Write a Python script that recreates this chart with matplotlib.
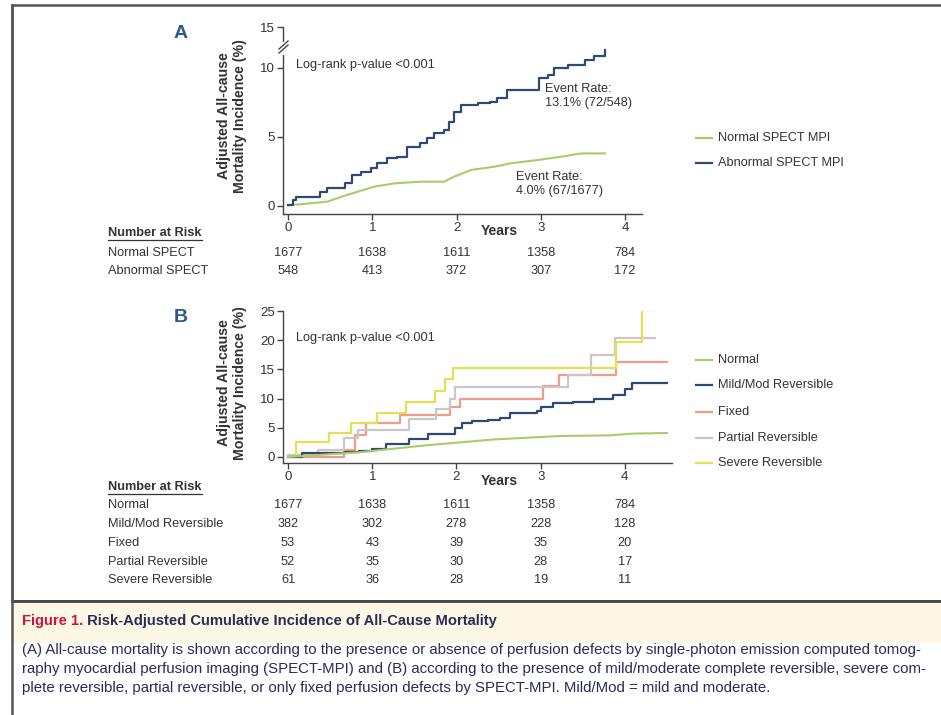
import matplotlib
matplotlib.use('Agg')
import matplotlib.pyplot as plt
import matplotlib.transforms as mtransforms
from matplotlib.lines import Line2D
from matplotlib.patches import Rectangle

plt.rcParams['font.family'] = ['Liberation Sans', 'DejaVu Sans']

# ---------------- data (years, cumulative %) ----------------
a_normal_t = [0, 0.26, 0.46, 0.70, 1.02, 1.26, 1.57, 1.85, 1.97, 2.17, 2.45, 2.64, 2.96, 3.24, 3.48, 3.76]
a_normal_y = [0.05, 0.19, 0.31, 0.80, 1.40, 1.64, 1.76, 1.76, 2.12, 2.61, 2.85, 3.09, 3.33, 3.57, 3.81, 3.81]

a_abn_t = [0, 0.06, 0.10, 0.38, 0.46, 0.68, 0.76, 0.86, 0.98, 1.06, 1.17, 1.29, 1.41, 1.57, 1.65,
           1.73, 1.85, 1.91, 1.97, 2.05, 2.25, 2.40, 2.48, 2.60, 2.98, 3.08, 3.16, 3.32, 3.52, 3.63, 3.76]
a_abn_y = [0.07, 0.43, 0.67, 1.04, 1.28, 1.64, 2.24, 2.49, 2.73, 3.09, 3.45, 3.57, 4.30, 4.54, 4.90,
           5.27, 5.51, 6.12, 6.84, 7.33, 7.45, 7.57, 7.80, 8.40, 9.25, 9.50, 9.98, 10.2, 10.6, 10.9, 11.3]

b_normal_t = [0, 0.84, 1.64, 2.44, 3.24, 3.82, 4.09, 4.50]
b_normal_y = [0, 0.8, 2.0, 3.0, 3.6, 3.7, 4.0, 4.1]

b_mild_t = [0, 0.17, 0.68, 0.84, 1.00, 1.16, 1.44, 1.66, 1.98, 2.06, 2.18, 2.37, 2.52, 2.64, 2.96,
            3.00, 3.15, 3.39, 3.63, 3.86, 4.00, 4.09, 4.50]
b_mild_y = [0.05, 0.6, 0.8, 1.1, 1.4, 2.2, 3.0, 4.0, 4.9, 5.8, 6.2, 6.3, 6.6, 7.5, 7.8,
            8.6, 9.2, 9.5, 10.0, 10.6, 11.7, 12.6, 12.6]

b_fixed_t = [0, 0.67, 0.80, 0.92, 1.33, 1.92, 2.04, 3.03, 3.22, 3.90, 4.50]
b_fixed_y = [0, 1.2, 3.8, 5.8, 7.2, 8.6, 10.0, 12.2, 14.0, 16.3, 16.3]

b_partial_t = [0, 0.35, 0.67, 0.83, 1.44, 1.76, 1.92, 1.98, 3.33, 3.60, 3.88, 4.36]
b_partial_y = [0.3, 1.2, 3.2, 4.6, 6.5, 8.2, 10.0, 12.0, 14.0, 17.5, 20.4, 20.4]

b_severe_t = [0, 0.09, 0.49, 0.75, 1.06, 1.40, 1.74, 1.86, 1.96, 3.90, 4.20, 4.36]
b_severe_y = [0.05, 2.6, 4.05, 5.77, 7.48, 9.36, 11.36, 13.36, 15.3, 19.7, 25.2, 25.2]

years = [0, 1, 2, 3, 4]
a_risk_labels = ['Normal SPECT', 'Abnormal SPECT']
a_risk = [[1677, 1638, 1611, 1358, 784],
          [548, 413, 372, 307, 172]]
b_risk_labels = ['Normal', 'Mild/Mod Reversible', 'Fixed', 'Partial Reversible', 'Severe Reversible']
b_risk = [[1677, 1638, 1611, 1358, 784],
          [382, 302, 278, 228, 128],
          [53, 43, 39, 35, 20],
          [52, 35, 30, 28, 17],
          [61, 36, 28, 19, 11]]

# ---------------- colours ----------------
c_normal = '#a6cd6c'
c_blue = '#2f4a72'
c_fixed = '#f19b8b'
c_partial = '#c8c8c8'
c_severe = '#e5df55'
txt = '#333333'
axc = '#444444'
fs_small = 9.2

W, H = 941, 715
fig = plt.figure(figsize=(W / 100, H / 100), dpi=100)


def fx(px):
    return px / W


def fy(py):
    return 1 - py / H


def px_axes(left, top, right, bottom):
    return fig.add_axes([fx(left), fy(bottom), (right - left) / W, (bottom - top) / H])


def style_axes(ax):
    for s in ['top', 'right']:
        ax.spines[s].set_visible(False)
    for s in ['left', 'bottom']:
        ax.spines[s].set_color(axc)
        ax.spines[s].set_linewidth(1.0)
    ax.tick_params(direction='out', length=4, width=1, color=axc, labelsize=9.5,
                   labelcolor=txt, pad=2)
    ax.set_xticks(years)
    ax.set_facecolor('none')


# ---------------- outer frames ----------------
fig.add_artist(Rectangle((fx(12), fy(601)), 1.0, (601 - 5) / H, transform=fig.transFigure,
                         facecolor='white', edgecolor='#555555', lw=1.8, zorder=0))
fig.add_artist(Rectangle((fx(12), fy(643)), 1.0, (643 - 601) / H, transform=fig.transFigure,
                         facecolor='#fdf8e6', edgecolor='none', zorder=0))
fig.add_artist(Line2D([fx(12), 1], [fy(601), fy(601)], transform=fig.transFigure,
                      color='#444444', lw=2))
fig.add_artist(Line2D([fx(12), fx(12)], [0, fy(5)], transform=fig.transFigure,
                      color='#555555', lw=1.8))

# ---------------- panel A ----------------
axA = px_axes(283, 27, 642, 214)
style_axes(axA)
axA.set_xlim(-0.06, 4.2)
axA.set_ylim(-0.58, 12.97)
axA.set_yticks([0, 5, 10, 12.97])
axA.set_yticklabels(['0', '5', '10', '15'])
lnA1, = axA.plot(a_normal_t, a_normal_y, color=c_normal, lw=1.5)
lnA2, = axA.plot(a_abn_t, a_abn_y, drawstyle='steps-post', color=c_blue, lw=1.6)

# axis break on the y axis
tr = mtransforms.blended_transform_factory(axA.transAxes, axA.transData)
axA.plot([0, 0], [11.1, 11.75], transform=tr, color='white', lw=3, clip_on=False, zorder=5)
for dy in (0, 4):
    fig.add_artist(Line2D([fx(279), fx(288)], [fy(53 - dy), fy(45 - dy)],
                          transform=fig.transFigure, color=axc, lw=1))

fig.text(fx(296), fy(65), 'Log-rank p-value <0.001', fontsize=fs_small, color=txt, va='center')
fig.text(fx(545), fy(96), 'Event Rate:\n13.1% (72/548)', fontsize=fs_small, color=txt,
         va='center', linespacing=1.25)
fig.text(fx(516), fy(184), 'Event Rate:\n4.0% (67/1677)', fontsize=fs_small, color=txt,
         va='center', linespacing=1.25)

# ---------------- panel B ----------------
axB = px_axes(283, 311, 672, 463)
style_axes(axB)
axB.set_xlim(-0.06, 4.56)
axB.set_ylim(-1.03, 25)
axB.set_yticks([0, 5, 10, 15, 20, 25])
lnB = []
lnB.append(axB.plot(b_normal_t, b_normal_y, color=c_normal, lw=1.5)[0])
lnB.append(axB.plot(b_mild_t, b_mild_y, drawstyle='steps-post', color=c_blue, lw=1.6)[0])
lnB.append(axB.plot(b_fixed_t, b_fixed_y, drawstyle='steps-post', color=c_fixed, lw=1.6)[0])
lnB.append(axB.plot(b_partial_t, b_partial_y, drawstyle='steps-post', color=c_partial, lw=1.6)[0])
lnB.append(axB.plot(b_severe_t, b_severe_y, drawstyle='steps-post', color=c_severe, lw=1.6)[0])
lnB[0].set_zorder(4)
lnB[1].set_zorder(3)

fig.text(fx(296), fy(338), 'Log-rank p-value <0.001', fontsize=fs_small, color=txt, va='center')

# ---------------- shared labels ----------------
ylab = 'Adjusted All-cause\nMortality Incidence (%)'
for cy in (116, 383):
    fig.text(fx(232), fy(cy), ylab, rotation=90, fontsize=10.2, fontweight='bold', color=txt,
             ha='center', va='center', linespacing=1.2)
fig.text(fx(499), fy(231), 'Years', fontsize=10, fontweight='bold', color=txt,
         ha='center', va='center')
fig.text(fx(499), fy(481), 'Years', fontsize=10, fontweight='bold', color=txt,
         ha='center', va='center')
fig.text(fx(181), fy(34), 'A', fontsize=14, fontweight='bold', color='#2d5987',
         ha='center', va='center')
fig.text(fx(181), fy(318), 'B', fontsize=14, fontweight='bold', color='#2d5987',
         ha='center', va='center')


# ---------------- legends ----------------
def legend_rows(lines, labels, ys):
    for ln, lab, y in zip(lines, labels, ys):
        fig.add_artist(Line2D([fx(696), fx(712)], [fy(y), fy(y)], transform=fig.transFigure,
                              color=ln.get_color(), lw=1.6))
        fig.text(fx(718), fy(y), lab, fontsize=fs_small, color=txt, va='center')


legend_rows([lnA1, lnA2], ['Normal SPECT MPI', 'Abnormal SPECT MPI'], [138, 163])
legend_rows(lnB, b_risk_labels, [360, 385, 412, 438, 463])

# ---------------- number at risk tables ----------------
heads = []


def risk_table(ax, labels, rows, head_y, row_ys):
    h = fig.text(fx(108), fy(head_y), 'Number at Risk', fontsize=fs_small, fontweight='bold',
                 color=txt, va='center')
    heads.append((h, head_y))
    btr = mtransforms.blended_transform_factory(ax.transData, fig.transFigure)
    for lab, vals, y in zip(labels, rows, row_ys):
        fig.text(fx(108), fy(y), lab, fontsize=fs_small, color=txt, va='center')
        for t, v in zip(years, vals):
            fig.text(t, fy(y), str(v), fontsize=fs_small, color=txt, ha='center', va='center',
                     transform=btr)


risk_table(axA, a_risk_labels, a_risk, 233, [253, 271])
risk_table(axB, b_risk_labels, b_risk, 487, [505, 524, 543, 562, 580])

# ---------------- caption ----------------
cap_col = '#2a2c58'

t1 = fig.text(fx(22), fy(621), 'Figure 1.', fontsize=9, fontweight='bold', color='#d3123c',
              va='center')
t2 = fig.text(fx(22), fy(621), ' Risk-Adjusted Cumulative Incidence of All-Cause Mortality',
              fontsize=9, fontweight='bold', color=cap_col, va='center')

body = ['(A) All-cause mortality is shown according to the presence or absence of perfusion defects '
        'by single-photon emission computed tomog-',
        'raphy myocardial perfusion imaging (SPECT-MPI) and (B) according to the presence of '
        'mild/moderate complete reversible, severe com-',
        'plete reversible, partial reversible, or only fixed perfusion defects by SPECT-MPI. '
        'Mild/Mod = mild and moderate.']
body_t = []
for line, y in zip(body, [650, 669, 688]):
    body_t.append(fig.text(fx(22), fy(y), line, fontsize=9, color=cap_col, va='center'))

fig.canvas.draw()
r = fig.canvas.get_renderer()
# one font size for the body, fitted to the first (full) line
body_fs = 9 * 903 / body_t[0].get_window_extent(r).width
for t in body_t:
    t.set_fontsize(body_fs)
tw = t1.get_window_extent(r).width + t2.get_window_extent(r).width
fs = 9 * 475 / tw
t1.set_fontsize(fs)
t2.set_fontsize(fs)
fig.canvas.draw()
t2.set_x(fx(22 + t1.get_window_extent(r).width))

# underline "Number at Risk"
for h, y in heads:
    bb = h.get_window_extent(r)
    fig.add_artist(Line2D([bb.x0 / W, bb.x1 / W], [fy(y + 7), fy(y + 7)],
                          transform=fig.transFigure, color=txt, lw=0.9))

fig.savefig('out.png', dpi=100)
